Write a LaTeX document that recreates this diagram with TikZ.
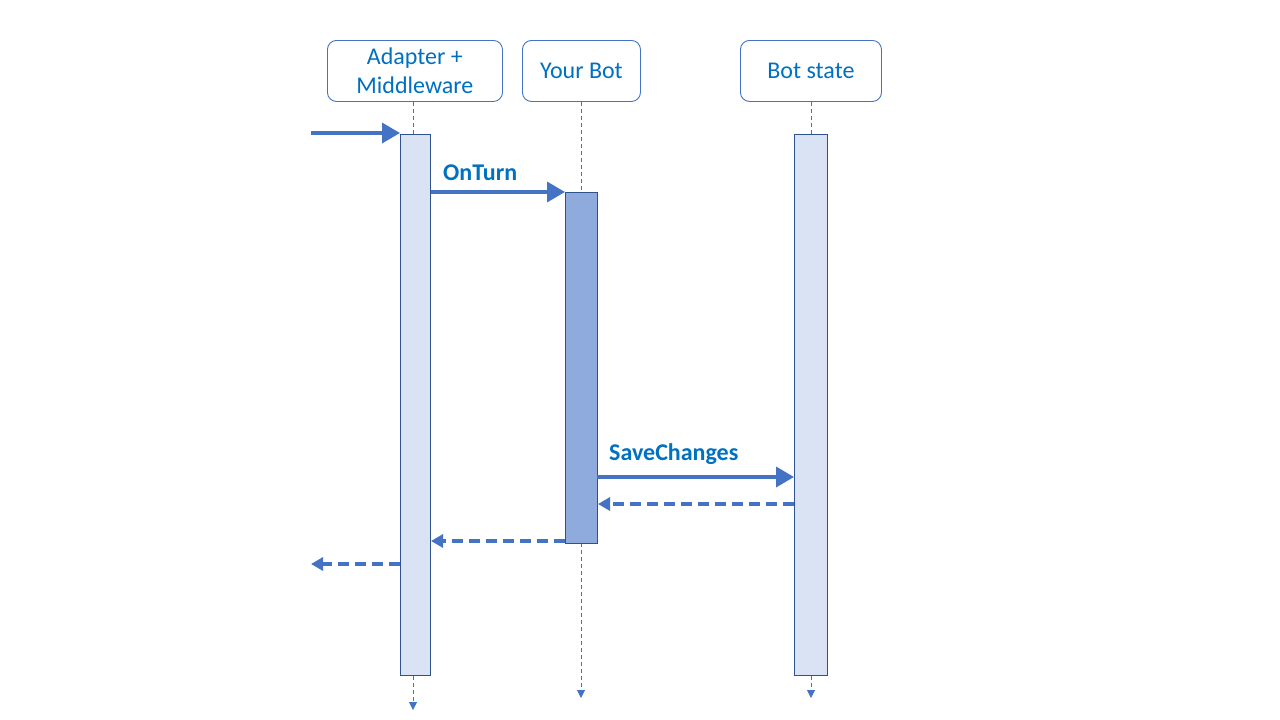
\documentclass[tikz,border=0pt]{standalone}
\usepackage{fontspec}
\setmainfont{Carlito}
\usetikzlibrary{arrows.meta}
\definecolor{boxblue}{HTML}{4472C4}
\definecolor{txtblue}{HTML}{0070C0}
\definecolor{barfill}{HTML}{DAE3F3}
\definecolor{barfillb}{HTML}{8FAADC}
\definecolor{barline}{HTML}{2F528F}
\begin{document}
\begin{tikzpicture}[x=1pt,y=-1pt,
  actor/.style={draw=boxblue, line width=0.9pt, rounded corners=9pt, fill=white, text=txtblue,
    font=\fontsize{24}{29}\selectfont, align=center, anchor=north west, inner sep=0pt},
  bar/.style={draw=barline, line width=1pt, fill=barfill, anchor=north west, inner sep=0pt},
  lifeline/.style={draw=boxblue, line width=1pt, dash pattern=on 4pt off 3pt,
    -{Triangle[length=8pt,width=8pt]}},
  call/.style={draw=boxblue, line width=3.5pt, -{Triangle[length=18pt,width=20pt]}},
  ret/.style={draw=boxblue, line width=3.5pt, dash pattern=on 11pt off 6pt,
    -{Triangle[length=12pt,width=13pt]}},
  lbl/.style={text=txtblue, font=\bfseries\fontsize{24}{28}\selectfont, anchor=base west, inner sep=0pt}]
\useasboundingbox (0,0) rectangle (1280,720);
% actor boxes
\node[actor, minimum width=175pt, minimum height=61pt] (am) at (327,40) {Adapter +\\Middleware};
\node[actor, minimum width=118pt, minimum height=61pt] (yb) at (522,40) {Your Bot};
\node[actor, minimum width=141pt, minimum height=61pt] (bs) at (740,40) {Bot state};
% lifeline ends
\coordinate (amEnd) at (413,710);
\coordinate (ybEnd) at (581,698);
\coordinate (bsEnd) at (811,698);
% lifelines
\draw[lifeline] (am.south -| amEnd) -- (amEnd);
\draw[lifeline] (yb.south -| ybEnd) -- (ybEnd);
\draw[lifeline] (bs.south -| bsEnd) -- (bsEnd);
% activation bars
\node[bar, minimum width=30pt, minimum height=541pt] (amBar) at (400,134) {};
\node[bar, fill=barfillb, minimum width=32pt, minimum height=351pt] (ybBar) at (565,192) {};
\node[bar, minimum width=33pt, minimum height=541pt] (bsBar) at (794,134) {};
% free ends
\coordinate (inStart) at (311,133);
\coordinate (outEnd) at (311,564);
% messages
\draw[call] (inStart) -- (amBar.west |- inStart);
\draw[call] (amBar.east |- ybBar.north west) -- (ybBar.north west);
\node[lbl] (onturn) at (443,180) {OnTurn};
\draw[call] (597,477) -- (bsBar.west |- 0,477);
\node[lbl] (save) at (609,460) {SaveChanges};
\draw[ret] (bsBar.west |- 0,504) -- (ybBar.east |- 0,504);
\draw[ret] (ybBar.west |- 0,541) -- (amBar.east |- 0,541);
\draw[ret] (amBar.west |- outEnd) -- (outEnd);
\end{tikzpicture}
\end{document}
